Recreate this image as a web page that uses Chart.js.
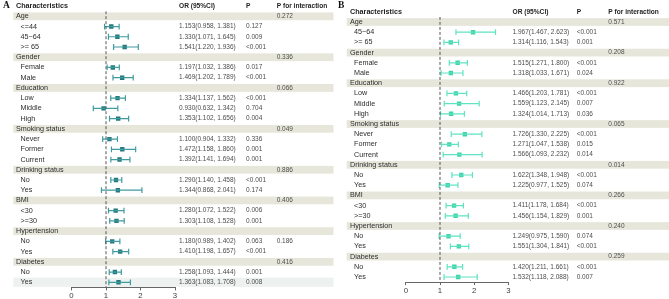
<!DOCTYPE html>
<html>
<head>
<meta charset="utf-8">
<script src="https://cdn.jsdelivr.net/npm/chart.js@4.4.1/dist/chart.umd.min.js"></script>
<style>
  html, body { margin: 0; padding: 0; background: #fff; }
  #chartA { position: absolute; left: 0; top: 0; }
  #chartB { position: absolute; left: 336px; top: 0; }
</style>
</head>
<body>
<canvas id="chartA" width="336" height="299"></canvas>
<canvas id="chartB" width="333" height="299"></canvas>
<script>
// Panel A - rows (null OR = group header row)
const labelsA = ['Age', '<=44', '45\u221264', '>= 65', 'Gender', 'Female', 'Male',
  'Education', 'Low', 'Middle', 'High', 'Smoking status', 'Never', 'Former', 'Current',
  'Drinking status', 'No', 'Yes', 'BMI', '<30', '>=30', 'Hypertension', 'No', 'Yes',
  'Diabetes', 'No', 'Yes'];
const orA = [null, 1.153, 1.330, 1.541, null, 1.197, 1.469, null, 1.334, 0.930, 1.353,
  null, 1.100, 1.472, 1.392, null, 1.290, 1.344, null, 1.280, 1.303, null, 1.180, 1.410,
  null, 1.258, 1.363];
const loA = [null, 0.958, 1.071, 1.220, null, 1.032, 1.202, null, 1.137, 0.632, 1.102,
  null, 0.904, 1.158, 1.141, null, 1.140, 0.868, null, 1.072, 1.108, null, 0.989, 1.198,
  null, 1.093, 1.083];
const hiA = [null, 1.381, 1.645, 1.936, null, 1.386, 1.789, null, 1.562, 1.342, 1.656,
  null, 1.332, 1.860, 1.694, null, 1.458, 2.041, null, 1.522, 1.528, null, 1.402, 1.657,
  null, 1.444, 1.708];
const pA = ['', '0.127', '0.009', '<0.001', '', '0.017', '<0.001', '', '<0.001', '0.704',
  '0.004', '', '0.336', '0.001', '0.001', '', '<0.001', '0.174', '', '0.006', '0.001', '',
  '0.063', '<0.001', '', '0.001', '0.008'];
const pIntA = ['0.272', '', '', '', '0.336', '', '', '0.066', '', '', '', '0.049', '', '', '',
  '0.886', '', '', '0.406', '', '', '', '0.186', '', '0.416', '', ''];

// Panel B
const labelsB = ['Age', '45\u221264', '>= 65', 'Gender', 'Female', 'Male',
  'Education', 'Low', 'Middle', 'High', 'Smoking status', 'Never', 'Former', 'Current',
  'Drinking status', 'No', 'Yes', 'BMI', '<30', '>=30', 'Hypertension', 'No', 'Yes',
  'Diabetes', 'No', 'Yes'];
const orB = [null, 1.967, 1.314, null, 1.515, 1.318, null, 1.466, 1.559, 1.324,
  null, 1.726, 1.271, 1.566, null, 1.622, 1.225, null, 1.411, 1.456, null, 1.249, 1.551,
  null, 1.420, 1.532];
const loB = [null, 1.467, 1.116, null, 1.271, 1.033, null, 1.203, 1.123, 1.014,
  null, 1.330, 1.047, 1.093, null, 1.348, 0.977, null, 1.178, 1.154, null, 0.975, 1.304,
  null, 1.211, 1.118];
const hiB = [null, 2.623, 1.543, null, 1.800, 1.671, null, 1.781, 2.145, 1.713,
  null, 2.225, 1.538, 2.232, null, 1.948, 1.525, null, 1.684, 1.829, null, 1.590, 1.841,
  null, 1.661, 2.088];
const pB = ['', '<0.001', '0.001', '', '<0.001', '0.024', '', '<0.001', '0.007', '0.036',
  '', '<0.001', '0.015', '0.014', '', '<0.001', '0.074', '', '<0.001', '0.001', '',
  '0.074', '<0.001', '', '<0.001', '0.007'];
const pIntB = ['0.571', '', '', '0.208', '', '', '0.922', '', '', '', '0.065', '', '', '',
  '0.014', '', '', '0.266', '', '', '0.240', '', '', '0.259', '', ''];

const xTicks = [0, 1, 2, 3];

const SANS = '"Liberation Sans", Arial, sans-serif';
const SERIF = '"Liberation Serif", "Times New Roman", serif';

function makePanel(id, p) {
  const n = p.labels.length;
  const whisker = [], caps = [], points = [];
  for (let i = 0; i < n; i++) {
    if (p.or[i] === null) continue;
    whisker.push({ x: p.lo[i], y: i }, { x: p.hi[i], y: i }, { x: null, y: null });
    caps.push({ x: p.lo[i], y: i }, { x: p.hi[i], y: i });
    points.push({ x: p.or[i], y: i });
  }

  const tablePlugin = {
    id: 'table_' + id,
    beforeDatasetsDraw(chart) {
      const ctx = chart.ctx, y = chart.scales.y;
      const h = Math.abs(y.getPixelForValue(1) - y.getPixelForValue(0));
      ctx.save();
      for (let i = 0; i < n; i++) {
        let fill = null, bh = h * 0.76;
        if (p.or[i] === null) fill = '#e7e6db';
        else if (i === p.shadeRow) { fill = '#edf1f0'; bh = h * 0.9; }
        if (!fill) continue;
        ctx.fillStyle = fill;
        ctx.fillRect(p.bandL, y.getPixelForValue(i) - bh / 2, p.bandR - p.bandL, bh);
      }
      ctx.restore();
    },
    afterDraw(chart) {
      const ctx = chart.ctx, y = chart.scales.y;
      ctx.save();
      ctx.textBaseline = 'middle';
      ctx.textAlign = 'left';
      // panel letter
      ctx.fillStyle = '#111';
      ctx.font = 'bold 9.5px ' + SERIF;
      ctx.fillText(p.letter, p.letterX, 5.8);
      // header row
      const hy = y.getPixelForValue(-1);
      ctx.fillStyle = '#1e1e1e';
      ctx.font = 'bold 7.2px ' + SANS;
      ctx.fillText('Characteristics', p.headX, hy);
      ctx.font = 'bold 6.6px ' + SANS;
      ctx.fillText('OR (95%CI)', p.orX, hy);
      ctx.fillText('P', p.pX, hy);
      ctx.fillText('P for interaction', p.pIntX, hy);
      for (let i = 0; i < n; i++) {
        const yy = y.getPixelForValue(i);
        ctx.font = '7.2px ' + SANS;
        ctx.fillStyle = '#2c2c2c';
        ctx.fillText(p.labels[i], p.or[i] === null ? p.headX : p.subX, yy);
        ctx.font = '6.5px ' + SANS;
        ctx.fillStyle = '#4d4d4d';
        if (p.or[i] !== null) {
          const txt = p.or[i].toFixed(3) + '(' + p.lo[i].toFixed(3) + ', ' + p.hi[i].toFixed(3) + ')';
          ctx.fillText(txt, p.orX, yy);
          ctx.fillText(p.p[i], p.pX, yy);
        }
        if (p.pInt[i]) ctx.fillText(p.pInt[i], p.pIntX, yy);
      }
      ctx.restore();
    }
  };

  return new Chart(document.getElementById(id), {
    type: 'scatter',
    data: {
      datasets: [
        {
          data: [{ x: 1, y: -0.5 }, { x: 1, y: n - 0.5 }],
          showLine: true, borderColor: '#555', borderWidth: 1,
          borderDash: [3, 2], pointRadius: 0
        },
        {
          data: whisker, showLine: true, spanGaps: false,
          borderColor: p.lineColor, borderWidth: 1.2, pointRadius: 0
        },
        {
          data: caps, showLine: false, pointStyle: 'line', rotation: 90,
          pointRadius: 2.9, borderColor: p.lineColor, pointBorderWidth: 1.2
        },
        {
          data: points, showLine: false, pointStyle: 'rect', pointRadius: 3.1,
          backgroundColor: p.pointColor, borderColor: p.pointColor, borderWidth: 0
        }
      ]
    },
    options: {
      responsive: false,
      animation: false,
      layout: { padding: { left: p.left, right: p.right, top: p.top, bottom: 0 } },
      plugins: { legend: { display: false }, tooltip: { enabled: false } },
      scales: {
        x: {
          type: 'linear', min: xTicks[0], max: xTicks[xTicks.length - 1],
          afterFit(s) { s.height = p.axisH; },
          afterBuildTicks(s) { s.ticks = xTicks.map(v => ({ value: v })); },
          ticks: { font: { size: 7.8, family: SANS }, color: '#3c3c3c', padding: 1 },
          grid: { drawOnChartArea: false, drawTicks: true, tickLength: 3, color: '#666' },
          border: { color: '#666', width: 1 }
        },
        y: { type: 'linear', display: false, reverse: true, min: -0.5, max: n - 0.5 }
      }
    },
    plugins: [tablePlugin]
  });
}

makePanel('chartA', {
  labels: labelsA, or: orA, lo: loA, hi: hiA, p: pA, pInt: pIntA,
  letter: 'A', letterX: 3, bandL: 13.3, bandR: 333.5, headX: 16, subX: 20.5,
  orX: 179, pX: 246, pIntX: 276.7, shadeRow: labelsA.length - 1,
  left: 71.5, right: 161, top: 11.2, axisH: 11.6,
  lineColor: '#3f9c9f', pointColor: '#23797d'
});

makePanel('chartB', {
  labels: labelsB, or: orB, lo: loB, hi: hiB, p: pB, pInt: pIntB,
  letter: 'B', letterX: 2, bandL: 10.7, bandR: 333, headX: 14, subX: 18,
  orX: 176.5, pX: 240.7, pIntX: 272.3, shadeRow: -1,
  left: 69.8, right: 160.6, top: 16.9, axisH: 16.9,
  lineColor: '#5fe3c1', pointColor: '#3ed3aa'
});
</script>
</body>
</html>
